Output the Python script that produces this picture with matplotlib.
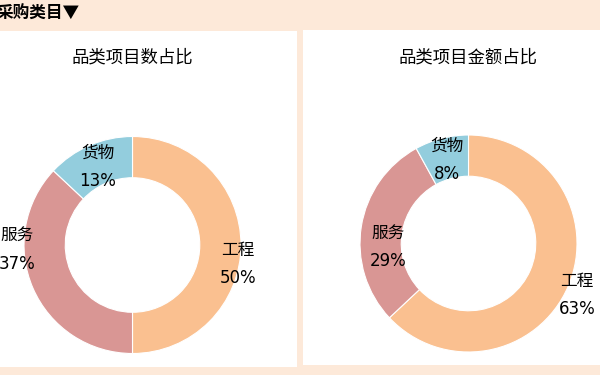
import matplotlib
matplotlib.use("Agg")
import matplotlib.pyplot as plt
from matplotlib.patches import Rectangle

plt.rcParams['font.family'] = ['Noto Sans CJK SC', 'DejaVu Sans']

# data
categories = ['工程', '服务', '货物']
count_share = [50, 37, 13]      # 品类项目数占比
amount_share = [63, 29, 8]      # 品类项目金额占比
titles = ['品类项目数占比', '品类项目金额占比']
header = '采购类目▼'

colors = ['#FAC090', '#D99694', '#93CDDD']
bg = '#FDE9D9'
H = 375  # figure height in px, axes uses pixel coords (y up)

fig = plt.figure(figsize=(6, 3.75), dpi=100, facecolor=bg)
ax = fig.add_axes([0, 0, 1, 1])

# white panels (left, top, right, bottom in px, top-down)
panels = [(0, 31, 297, 367), (303, 30, 600, 365)]
for x0, y0, x1, y1 in panels:
    ax.add_patch(Rectangle((x0, H - y1), x1 - x0, y1 - y0,
                           facecolor='white', edgecolor='none', zorder=0))

R = 108.5
centers = [(132.5, 245), (468.5, 243.5)]
# label offsets in units of radius (x right, y up)
label_off = [
    [(0.97, -0.175), (-1.06, -0.04), (-0.32, 0.72)],
    [(1.0, -0.475), (-0.74, -0.03), (-0.2, 0.77)],
]
lab_font = ['DejaVu Sans', 'Noto Sans CJK SC']

for i, vals in enumerate([count_share, amount_share]):
    cx, cy = centers[i]
    cy = H - cy
    ax.pie(vals, colors=colors, radius=R, center=(cx, cy), startangle=90,
           counterclock=False,
           wedgeprops=dict(width=R * 0.38, edgecolor='white', linewidth=0.8))
    for cat, v, (dx, dy) in zip(categories, vals, label_off[i]):
        ax.text(cx + dx * R, cy + dy * R, f'{cat}\n{v}%', ha='center',
                va='center', fontsize=12, linespacing=1.75, color='black',
                family=lab_font)
    ax.text(cx, H - 57, titles[i], ha='center', va='center', fontsize=12.5,
            color='black')

ax.text(-3, H - 14, header, ha='left', va='center', fontsize=12,
        fontweight='bold', color='black')

ax.set_xlim(0, 600)
ax.set_ylim(0, H)
ax.axis('off')

fig.savefig('out.png', dpi=100, facecolor=bg)
